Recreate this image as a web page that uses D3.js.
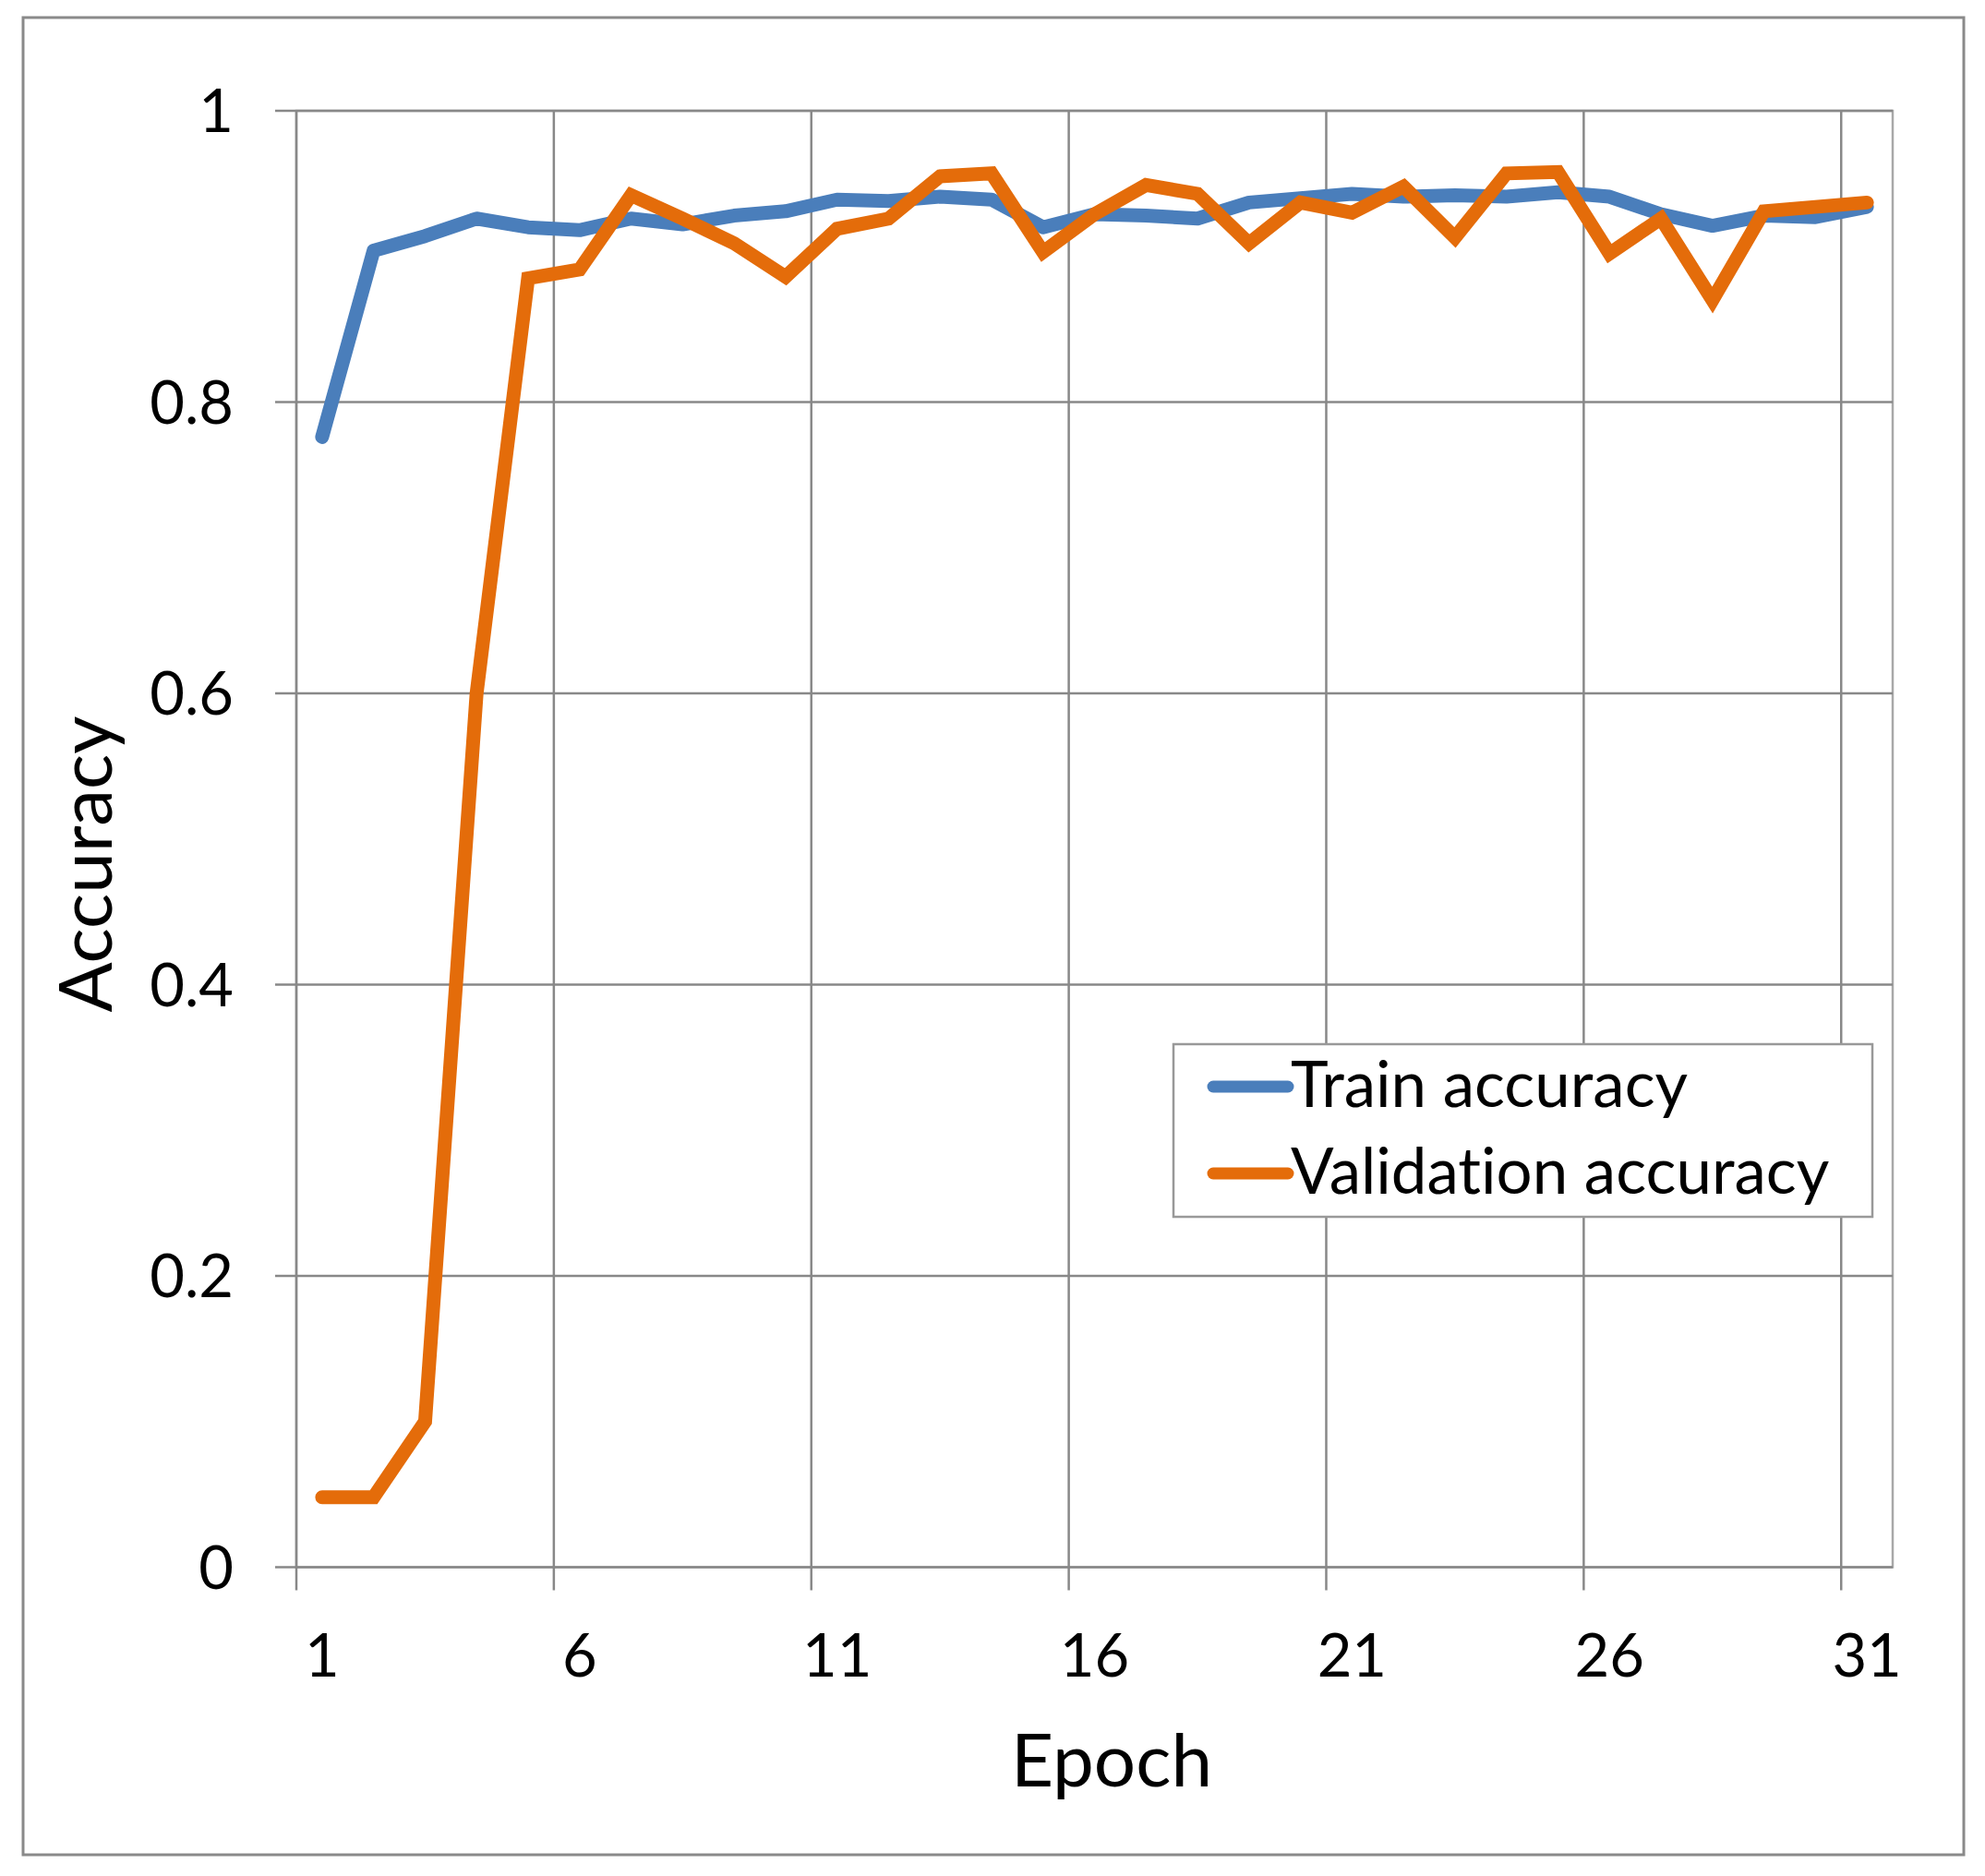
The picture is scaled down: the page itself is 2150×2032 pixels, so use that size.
<!DOCTYPE html>
<html>
<head>
<meta charset="utf-8">
<script src="https://cdn.jsdelivr.net/npm/d3@7"></script>
<style>
  body { margin: 0; background: #fff; }
  text { font-family: Lato, "Open Sans", sans-serif; fill: #000; font-variant-ligatures: none; }
</style>
</head>
<body>
<svg id="chart"></svg>
<script>
// epochs 1..31
const epochs = ["1","2","3","4","5","6","7","8","9","10","11","12","13","14","15","16",
  "17","18","19","20","21","22","23","24","25","26","27","28","29","30","31"];

const trainAcc = [0.776, 0.904, 0.914, 0.926, 0.920, 0.918, 0.926, 0.922, 0.928, 0.931,
  0.939, 0.938, 0.941, 0.939, 0.920, 0.929, 0.928, 0.926, 0.937, 0.940,
  0.943, 0.941, 0.942, 0.941, 0.944, 0.941, 0.929, 0.921, 0.928, 0.927, 0.934];

const valAcc = [0.048, 0.048, 0.100, 0.600, 0.885, 0.891, 0.942, 0.926, 0.909, 0.886,
  0.919, 0.926, 0.955, 0.957, 0.903, 0.929, 0.949, 0.943, 0.909, 0.937,
  0.930, 0.948, 0.913, 0.957, 0.958, 0.902, 0.926, 0.870, 0.931, 0.934, 0.937];

const yTicks = [0, 0.2, 0.4, 0.6, 0.8, 1];
const yTickLabels = ["0", "0.2", "0.4", "0.6", "0.8", "1"];
const xTickLabels = ["1", "6", "11", "16", "21", "26", "31"];

const seriesNames = ["Train accuracy", "Validation accuracy"];
const seriesColors = ["#4a7ebb", "#e46c0a"];

const width = 2150, height = 2032;
const plotLeft = 321, plotRight = 2050, plotTop = 120, plotBottom = 1697.5;
const tickFont = 65;

const svg = d3.select("#chart")
  .attr("width", width)
  .attr("height", height)
  .attr("viewBox", [0, 0, width, height]);

svg.append("rect")
  .attr("width", width).attr("height", height).attr("fill", "#fff");

// outer chart border
svg.append("rect")
  .attr("x", 25).attr("y", 19)
  .attr("width", 2102).attr("height", 1990)
  .attr("fill", "none")
  .attr("stroke", "#8a8a8a")
  .attr("stroke-width", 3);

const x = d3.scaleBand().domain(epochs).range([plotLeft, plotRight]).padding(0);
const y = d3.scaleLinear().domain([0, 1]).range([plotBottom, plotTop]);

const gridColor = "#888";

// plot area border
svg.append("rect")
  .attr("x", plotLeft).attr("y", plotTop)
  .attr("width", plotRight - plotLeft).attr("height", plotBottom - plotTop)
  .attr("fill", "none")
  .attr("stroke", "#a8a8a8")
  .attr("stroke-width", 2.5);

// horizontal gridlines + y ticks
svg.append("g")
  .selectAll("line")
  .data(yTicks)
  .join("line")
    .attr("x1", plotLeft - 23)
    .attr("x2", plotRight)
    .attr("y1", d => y(d))
    .attr("y2", d => y(d))
    .attr("stroke", gridColor)
    .attr("stroke-width", 2.5);

// vertical gridlines at category boundaries + x ticks
svg.append("g")
  .selectAll("line")
  .data(xTickLabels)
  .join("line")
    .attr("x1", d => x(d))
    .attr("x2", d => x(d))
    .attr("y1", plotTop)
    .attr("y2", plotBottom + 25)
    .attr("stroke", gridColor)
    .attr("stroke-width", 2.5);

// y tick labels
svg.append("g")
  .selectAll("text")
  .data(yTicks)
  .join("text")
    .attr("x", 253)
    .attr("y", d => y(d) + 23)
    .attr("text-anchor", "end")
    .attr("font-size", tickFont)
    .text((d, i) => yTickLabels[i]);

// x tick labels through the axis generator
svg.append("g")
  .attr("transform", `translate(0,${plotBottom})`)
  .call(d3.axisBottom(x).tickValues(xTickLabels).tickSize(0).tickPadding(0))
  .call(g => g.select(".domain").remove())
  .call(g => g.selectAll("text")
      .attr("y", 118)
      .attr("dy", null)
      .attr("fill", "#000")
      .attr("font-family", "Lato, 'Open Sans', sans-serif")
      .attr("font-size", tickFont));

// axis titles
svg.append("text")
  .attr("x", 1204).attr("y", 1935)
  .attr("text-anchor", "middle")
  .attr("font-size", 80)
  .text("Epoch");

svg.append("text")
  .attr("transform", "translate(121,936) rotate(-90)")
  .attr("text-anchor", "middle")
  .attr("font-size", 80)
  .text("Accuracy");

// lines
const line = d3.line()
  .x((d, i) => x(epochs[i]) + x.bandwidth() / 2)
  .y(d => y(d));

svg.append("path")
  .datum(trainAcc)
  .attr("d", line)
  .attr("fill", "none")
  .attr("stroke", seriesColors[0])
  .attr("stroke-width", 15)
  .attr("stroke-linejoin", "round")
  .attr("stroke-linecap", "round");

svg.append("path")
  .datum(valAcc)
  .attr("d", line)
  .attr("fill", "none")
  .attr("stroke", seriesColors[1])
  .attr("stroke-width", 15)
  .attr("stroke-linejoin", "miter")
  .attr("stroke-miterlimit", 4)
  .attr("stroke-linecap", "round");

// legend
const legend = svg.append("g");
legend.append("rect")
  .attr("x", 1271).attr("y", 1131)
  .attr("width", 757).attr("height", 187)
  .attr("fill", "#fff")
  .attr("stroke", "#999")
  .attr("stroke-width", 2.5);

const items = legend.selectAll("g")
  .data(seriesNames)
  .join("g")
    .attr("transform", (d, i) => `translate(0,${1177 + i * 94})`);

items.append("line")
  .attr("x1", 1314).attr("x2", 1395)
  .attr("stroke", (d, i) => seriesColors[i])
  .attr("stroke-width", 13)
  .attr("stroke-linecap", "round");

items.append("text")
  .attr("x", 1398)
  .attr("y", 22)
  .attr("font-size", 69)
  .text(d => d);
</script>
</body>
</html>
